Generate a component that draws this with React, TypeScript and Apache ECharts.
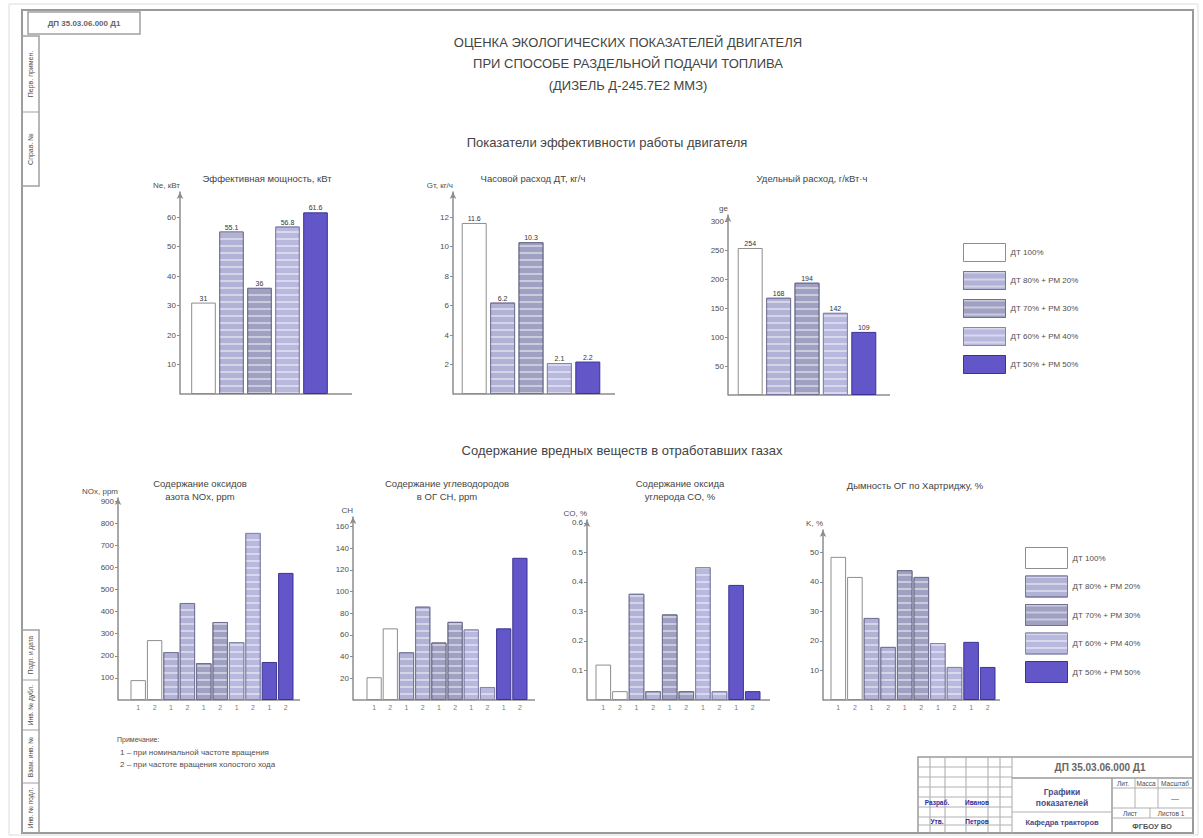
import React, { useEffect, useRef } from 'react';
import * as echarts from 'echarts';

// ---------- data ----------
const fuels = ['ДТ 100%', 'ДТ 80% + РМ 20%', 'ДТ 70% + РМ 30%', 'ДТ 60% + РМ 40%', 'ДТ 50% + РМ 50%'];
const fuelColors = ['#ffffff', '#b2b2d6', '#a0a0c2', '#b9b9e0', '#6356c9'];
const fuelBorders = ['#8e8e8e', '#76769a', '#70708e', '#8686ac', '#3b3392'];

const topCategories = ['1', '2', '3', '4', '5'];
const powerValues = [31, 55.1, 36, 56.8, 61.6];
const fuelRateValues = [11.6, 6.2, 10.3, 2.1, 2.2];
const specificRateValues = [254, 168, 194, 142, 109];

const regimeCategories = ['1', '2', '1', '2', '1', '2', '1', '2', '1', '2'];
const noxValues = [90, 271, 217, 439, 167, 353, 262, 756, 172, 575];
const chValues = [21, 66, 44, 86, 53, 72, 65, 12, 66, 131];
const coValues = [0.12, 0.03, 0.36, 0.03, 0.29, 0.03, 0.45, 0.03, 0.39, 0.03];
const smokeValues = [48.5, 41.7, 27.8, 18, 44, 41.7, 19.3, 11.2, 19.7, 11.2];

const titleLines = [
  'ОЦЕНКА ЭКОЛОГИЧЕСКИХ ПОКАЗАТЕЛЕЙ ДВИГАТЕЛЯ',
  'ПРИ СПОСОБЕ РАЗДЕЛЬНОЙ ПОДАЧИ ТОПЛИВА',
  '(ДИЗЕЛЬ Д-245.7Е2 ММЗ)',
];
const sectionTop = 'Показатели эффективности работы двигателя';
const sectionBottom = 'Содержание вредных веществ в отработавших газах';

// ---------- chart specs ----------
const charts = [
  { title: ['Эффективная мощность, кВт'], unit: 'Ne, кВт', values: powerValues, cats: topCategories, max: 68.5, interval: 10, top: true,
    L: { axisX: 180, left: 189.5, width: 140, top: 192, base: 394, lineEnd: 352, tx: 267, ty: 178 } },
  { title: ['Часовой расход ДТ, кг/ч'], unit: 'Gт, кг/ч', values: fuelRateValues, cats: topCategories, max: 13.7, interval: 2, top: true,
    L: { axisX: 453, left: 460, width: 142, top: 192, base: 394, lineEnd: 615, tx: 533, ty: 178 } },
  { title: ['Удельный расход, г/кВт·ч'], unit: 'ge', values: specificRateValues, cats: topCategories, max: 311, interval: 50, top: true,
    L: { axisX: 728, left: 736, width: 142, top: 215, base: 395, lineEnd: 890, tx: 812, ty: 178 } },
  { title: ['Содержание оксидов', 'азота NOx, ppm'], unit: 'NOx, ppm', values: noxValues, cats: regimeCategories, max: 914, interval: 100, top: false,
    L: { axisX: 118, left: 130, width: 164, top: 498, base: 700, lineEnd: 300, tx: 200, ty: 483 } },
  { title: ['Содержание углеводородов', 'в ОГ CH, ppm'], unit: 'CH', values: chValues, cats: regimeCategories, max: 168.6, interval: 20, top: false,
    L: { axisX: 353, left: 366, width: 162, top: 517, base: 700, lineEnd: 535, tx: 447, ty: 483 } },
  { title: ['Содержание оксида', 'углерода CO, %'], unit: 'CO, %', values: coValues, cats: regimeCategories, max: 0.61, interval: 0.1, top: false,
    L: { axisX: 587, left: 595, width: 166, top: 520, base: 700, lineEnd: 770, tx: 680, ty: 483 } },
  { title: ['Дымность ОГ по Хартриджу, %'], unit: 'K, %', values: smokeValues, cats: regimeCategories, max: 57.6, interval: 10, top: false,
    L: { axisX: 823, left: 830, width: 166, top: 530, base: 700, lineEnd: 1000, tx: 915, ty: 485 } },
];

const FONT = '"Liberation Sans", "DejaVu Sans", sans-serif';
const TXT = '#4e4e4e';
const AX = '#8c8c8c';

function txt(x: number, y: number, text: string, size: number, extra: any = {}) {
  return {
    type: 'text', x, y, rotation: extra.rotation || 0, silent: true,
    style: {
      text, fill: extra.fill || TXT, font: `${extra.weight || 'normal'} ${size}px ${FONT}`,
      align: extra.align || 'center', verticalAlign: 'middle',
    },
  };
}
function line(x1: number, y1: number, x2: number, y2: number, color = '#9a9a9a', w = 1) {
  return { type: 'line', silent: true, shape: { x1, y1, x2, y2 }, style: { stroke: color, lineWidth: w } };
}
function rect(x: number, y: number, width: number, height: number, stroke = '#9a9a9a', w = 1, fill = 'none') {
  return { type: 'rect', silent: true, shape: { x, y, width, height }, style: { stroke, lineWidth: w, fill } };
}

const stripeDecal = {
  symbol: 'rect', symbolSize: 1, dashArrayX: [[10, 0]], dashArrayY: [1.5, 5],
  color: 'rgba(255,255,255,0.45)',
};

function buildOption() {
  const grid: any[] = [];
  const xAxis: any[] = [];
  const yAxis: any[] = [];
  const series: any[] = [];
  const graphic: any[] = [];

  charts.forEach((c, k) => {
    const L = c.L;
    grid.push({ left: L.left, top: L.top, width: L.width, height: L.base - L.top });
    xAxis.push({
      type: 'category', gridIndex: k, data: c.cats,
      axisLine: { show: false }, axisTick: { show: false },
      axisLabel: c.top ? { show: false } : { show: true, fontSize: 7, color: '#7a7a7a', margin: 4, fontFamily: FONT },
    });
    yAxis.push({
      type: 'value', gridIndex: k, min: 0, max: c.max, interval: c.interval, offset: L.left - L.axisX,
      name: c.unit, nameLocation: 'end', nameGap: 3,
      nameTextStyle: { fontSize: 8, color: TXT, align: 'right', fontFamily: FONT },
      axisLine: { show: true, lineStyle: { color: AX, width: 1.5 }, symbol: ['none', 'arrow'], symbolSize: [5, 7] },
      axisTick: { show: true, length: 3, lineStyle: { color: AX } },
      axisLabel: { fontSize: 8, color: TXT, margin: 4, showMinLabel: false, showMaxLabel: false, fontFamily: FONT },
      splitLine: { show: false },
    });
    fuels.forEach((name, f) => {
      const itemStyle: any = { color: fuelColors[f], borderColor: fuelBorders[f], borderWidth: 1 };
      if (f >= 1 && f <= 3) itemStyle.decal = stripeDecal;
      series.push({
        type: 'bar', name, xAxisIndex: k, yAxisIndex: k, stack: 's' + k,
        barCategoryGap: c.top ? '12%' : '6%',
        data: c.values.map((v, i) => ((c.top ? i : Math.floor(i / 2)) === f ? v : '-')),
        itemStyle,
        label: c.top
          ? { show: true, position: 'top', distance: 1, fontSize: 7, color: '#333', fontFamily: FONT }
          : { show: false },
      });
    });
    graphic.push(line(L.axisX, L.base, L.lineEnd, L.base, AX, 1.5));
    c.title.forEach((t, j) => graphic.push(txt(L.tx, L.ty + j * 13, t, 9.5, { fill: '#444' })));
  });

  // headings
  titleLines.forEach((t, j) => graphic.push(txt(628, 42 + j * 21.5, t, 13, { fill: '#444' })));
  graphic.push(txt(607, 142, sectionTop, 13, { fill: '#444' }));
  graphic.push(txt(622, 450, sectionBottom, 13, { fill: '#444' }));

  // note (bottom-left)
  graphic.push(txt(117, 739, 'Примечание:', 7, { align: 'left' }));
  graphic.push(txt(120, 752, '1 – при номинальной частоте вращения', 8, { align: 'left' }));
  graphic.push(txt(120, 764, '2 – при частоте вращения холостого хода', 8, { align: 'left' }));

  // sheet frame
  graphic.push(rect(9, 4, 1189, 831, '#dcdcdc', 1));
  graphic.push(rect(22, 10, 1171, 823, '#9a9a9a', 2));
  // top-left stamp
  graphic.push(rect(28, 12, 112, 22, '#a0a0a0', 1.5));
  graphic.push(txt(84, 23, 'ДП 35.03.06.000 Д1', 8, { weight: 'bold', fill: '#666' }));
  // left strips
  graphic.push(rect(22, 36, 17, 150, '#a0a0a0', 1.5));
  graphic.push(line(22, 112, 39, 112, '#a0a0a0', 1));
  graphic.push(txt(30, 74, 'Перв. примен.', 7, { rotation: Math.PI / 2 }));
  graphic.push(txt(30, 149, 'Справ. №', 7, { rotation: Math.PI / 2 }));
  graphic.push(rect(22, 630, 17, 203, '#a0a0a0', 1.5));
  [680, 730, 783].forEach((y) => graphic.push(line(22, y, 39, y, '#a0a0a0', 1)));
  graphic.push(txt(30, 655, 'Подп. и дата', 6.5, { rotation: Math.PI / 2 }));
  graphic.push(txt(30, 705, 'Инв. № дубл.', 6.5, { rotation: Math.PI / 2 }));
  graphic.push(txt(30, 757, 'Взам. инв. №', 6.5, { rotation: Math.PI / 2 }));
  graphic.push(txt(30, 808, 'Инв. № подл.', 6.5, { rotation: Math.PI / 2 }));

  // title block
  const bx = 918, by = 757, bw = 275, bh = 76;
  graphic.push(rect(bx, by, bw, bh, '#9a9a9a', 1.5));
  [930, 945, 966, 988, 1000, 1012].forEach((x) => graphic.push(line(x, by, x, by + bh, '#a8a8a8', 1)));
  [767, 777, 787, 797, 807, 817, 825].forEach((y) => graphic.push(line(bx, y, 1012, y, '#b0b0b0', 1)));
  graphic.push(line(1012, 778, 1193, 778, '#9a9a9a', 1.5));
  graphic.push(line(1112, 778, 1112, 833, '#9a9a9a', 1.5));
  graphic.push(line(1112, 788, 1193, 788, '#b0b0b0', 1));
  graphic.push(line(1112, 808, 1193, 808, '#b0b0b0', 1));
  graphic.push(line(1112, 818, 1193, 818, '#b0b0b0', 1));
  graphic.push(line(1012, 812, 1112, 812, '#b0b0b0', 1));
  [1135, 1158].forEach((x) => graphic.push(line(x, 778, x, 808, '#b0b0b0', 1)));
  graphic.push(line(1150, 808, 1150, 818, '#b0b0b0', 1));
  graphic.push(txt(1100, 767, 'ДП 35.03.06.000 Д1', 10, { weight: 'bold', fill: '#666' }));
  graphic.push(txt(1062, 792, 'Графики', 8.5, { weight: 'bold', fill: '#4a4a8a' }));
  graphic.push(txt(1062, 803, 'показателей', 8.5, { weight: 'bold', fill: '#4a4a8a' }));
  graphic.push(txt(1062, 822, 'Кафедра тракторов', 7.5, { weight: 'bold', fill: '#4a4a8a' }));
  graphic.push(txt(1123, 783, 'Лит.', 6.5));
  graphic.push(txt(1146, 783, 'Масса', 6.5));
  graphic.push(txt(1175, 783, 'Масштаб', 6.5));
  graphic.push(txt(1175, 798, '—', 8));
  graphic.push(txt(1130, 813, 'Лист', 6.5));
  graphic.push(txt(1171, 813, 'Листов 1', 6.5));
  graphic.push(txt(1152, 826, 'ФГБОУ ВО', 7.5, { weight: 'bold', fill: '#555' }));
  graphic.push(txt(937, 802, 'Разраб.', 6.5, { fill: '#2f2b9c', weight: 'bold' }));
  graphic.push(txt(977, 802, 'Иванов', 6.5, { fill: '#2f2b9c', weight: 'bold' }));
  graphic.push(txt(937, 821, 'Утв.', 6.5, { fill: '#2f2b9c', weight: 'bold' }));
  graphic.push(txt(977, 821, 'Петров', 6.5, { fill: '#2f2b9c', weight: 'bold' }));

  const legendBase = {
    data: fuels, orient: 'vertical', icon: 'rect', selectedMode: false,
    textStyle: { fontSize: 8, color: TXT, fontFamily: FONT },
    itemStyle: { borderWidth: 1 },
  };

  return {
    animation: false,
    backgroundColor: '#ffffff',
    textStyle: { fontFamily: FONT },
    grid, xAxis, yAxis, series, graphic,
    legend: [
      { ...legendBase, left: 958, top: 238, itemWidth: 42, itemHeight: 18, itemGap: 9 },
      { ...legendBase, left: 1020, top: 542, itemWidth: 42, itemHeight: 21, itemGap: 6.5 },
    ],
  };
}

export default function App() {
  const ref = useRef<HTMLDivElement>(null);
  useEffect(() => {
    document.body.style.margin = '0';
    const chart = echarts.init(ref.current!, null, { renderer: 'svg' });
    chart.setOption(buildOption() as any);
    return () => chart.dispose();
  }, []);
  return <div ref={ref} style={{ position: 'absolute', left: 0, top: 0, width: 1203, height: 838, background: '#fff' }} />;
}
